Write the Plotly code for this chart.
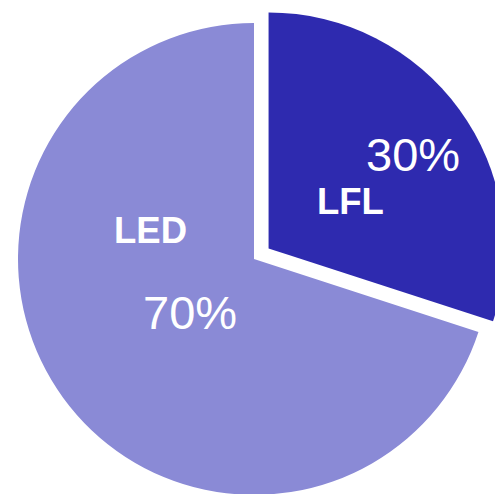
import plotly.graph_objects as go

labels = ["LFL", "LED"]
values = [30, 70]
colors = ["#2E2AAF", "#8A8AD6"]
pulls = [0.0763, 0]

# label / percent annotation anchor points (paper coords)
label_pos = [(350, 201), (150, 230)]
pct_pos = [(413, 154), (190, 312)]

W, H = 520, 518
total = sum(values)

fig = go.Figure(go.Pie(
    labels=labels,
    values=values,
    marker=dict(colors=colors, line=dict(width=0)),
    pull=pulls,
    sort=False,
    direction="clockwise",
    rotation=0,
    textinfo="none",
    hoverinfo="label+percent",
    showlegend=False,
    domain=dict(x=[0, 508 / W], y=[0, 1]),
))

annotations = []
for lab, val, lp, pp in zip(labels, values, label_pos, pct_pos):
    annotations.append(dict(
        text=f"<b>{lab}</b>", x=lp[0] / W, y=1 - lp[1] / H,
        xref="paper", yref="paper", showarrow=False,
        font=dict(family="Liberation Sans, Arial, sans-serif", size=36.5, color="white"),
        xanchor="center", yanchor="middle",
    ))
    annotations.append(dict(
        text=f"{round(val / total * 100)}%", x=pp[0] / W, y=1 - pp[1] / H,
        xref="paper", yref="paper", showarrow=False,
        font=dict(family="Liberation Sans, Arial, sans-serif", size=47, color="white"),
        xanchor="center", yanchor="middle",
    ))

fig.update_layout(
    width=W, height=H,
    margin=dict(l=0, r=0, t=0, b=0),
    paper_bgcolor="white",
    plot_bgcolor="white",
    annotations=annotations,
)

fig.write_html("out.html")
